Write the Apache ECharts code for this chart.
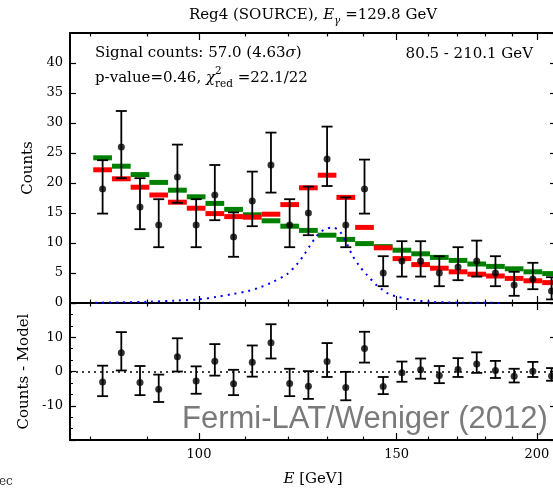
<!DOCTYPE html>
<html><head><meta charset="utf-8">
<script src="https://cdn.jsdelivr.net/npm/echarts@6/dist/echarts.min.js"></script>
<style>html,body{margin:0;padding:0;background:#fff;}#c{width:553px;height:488px;}</style>
</head><body><div id="c"></div>
<script>
// ---------------- data ----------------
const binEdges = [80.5, 83.65, 86.92, 90.32, 93.85, 97.53, 101.34, 105.31, 109.43, 113.71, 118.16, 122.78, 127.58, 132.57, 137.76, 143.15, 148.75, 154.57, 160.61, 166.90, 173.42, 180.21, 187.26, 194.58, 202.20, 210.1];
const binCenters = [82.06, 85.27, 88.60, 92.07, 95.67, 99.42, 103.30, 107.35, 111.55, 115.91, 120.44, 125.16, 130.05, 135.14, 140.43, 145.92, 151.63, 157.56, 163.72, 170.13, 176.78, 183.70, 190.89, 198.35, 206.11];
const counts = [19, 26, 16, 13, 21, 13, 18, 11, 17, 23, 13, 15, 24, 13, 19, 5, 7, 7, 5, 6, 7, 5, 3, 4, 2];
const errUp = [4.8, 6.0, 4.8, 4.3, 5.4, 4.3, 5.0, 4.1, 4.9, 5.4, 4.3, 4.4, 5.4, 4.6, 4.9, 2.8, 3.3, 3.3, 2.8, 3.3, 3.4, 2.8, 2.2, 2.7, 2.3];
const errDown = [4.1, 5.2, 3.7, 3.7, 4.3, 3.7, 4.2, 3.3, 4.2, 4.6, 3.7, 3.7, 4.5, 3.7, 4.1, 2.2, 2.6, 2.6, 2.2, 2.2, 2.6, 2.2, 1.8, 1.7, 1.4];
const modelTotal = [22.2, 20.7, 19.3, 18.0, 16.8, 15.8, 14.9, 14.4, 14.3, 14.8, 16.4, 19.2, 21.3, 17.6, 12.6, 9.2, 7.4, 6.4, 5.8, 5.2, 4.8, 4.5, 4.1, 3.7, 3.4];
const modelBkgOnly = [24.2, 22.8, 21.4, 20.1, 18.8, 17.7, 16.6, 15.6, 14.7, 13.7, 12.8, 12.1, 11.3, 10.6, 9.9, 9.4, 8.8, 8.2, 7.6, 7.1, 6.5, 6.1, 5.7, 5.2, 4.9];
const residuals = [-3.1, 5.5, -3.2, -5.2, 4.3, -2.8, 3.0, -3.6, 2.7, 8.4, -3.5, -4.3, 2.9, -4.7, 6.7, -4.4, -0.4, 0.5, -1.2, 0.6, 2.2, 0.3, -1.4, 0.1, -1.3];
const lineE = [80.8, 85.0, 89.9, 95.2, 100.0, 103.8, 107.2, 110.6, 113.3, 115.7, 119.8, 122.3, 123.8, 125.6, 126.9, 128.2, 130.0, 131.6, 133.5, 135.5, 137.1, 139.1, 141.1, 144.1, 145.8, 147.3, 150.1, 155.1, 160.6, 167.3, 178.0, 185.4];
const lineCounts = [0.05, 0.1, 0.2, 0.4, 0.6, 1.05, 1.5, 2.0, 2.6, 3.3, 4.8, 6.5, 7.8, 9.6, 10.8, 11.8, 12.4, 12.6, 11.9, 9.8, 7.8, 6.05, 4.7, 2.9, 2.2, 1.6, 1.05, 0.5, 0.2, 0.08, 0.03, 0.02];
const xMajorTicks = [100, 150, 200];
const xMinorTicks = [80, 90, 110, 120, 130, 140, 160, 170, 180, 190];
const xRangeE = [76.75, 208.0];

// ---------------- chart ----------------
const L = v => Math.log10(v);
const xMin = L(xRangeE[0]), xMax = L(xRangeE[1]);
const SERIF = 'DejaVu Serif';
const black = '#000';
const FS = 15;

function xAx(grid, pos, ticks, len, showLine, labels, extra) {
  return Object.assign({
    type: 'value', gridIndex: grid, position: pos, min: xMin, max: xMax,
    axisLine: {show: showLine, onZero: false, lineStyle: {color: black, width: 2}},
    axisTick: {show: true, inside: true, length: len, customValues: ticks.map(L), lineStyle: {color: black, width: 1.2}},
    axisLabel: labels ? {show: true, customValues: labels.map(L), formatter: v => String(Math.round(Math.pow(10, v))),
      color: black, fontFamily: SERIF, fontSize: 13, margin: 8} : {show: false},
    splitLine: {show: false}
  }, extra || {});
}
function yAx(grid, pos, min, max, interval, labels, minor, extra) {
  return Object.assign({
    type: 'value', gridIndex: grid, position: pos, min: min, max: max, interval: interval,
    axisLine: {show: true, onZero: false, lineStyle: {color: black, width: 2}},
    axisTick: {show: true, inside: true, length: 6, lineStyle: {color: black, width: 1.2}},
    minorTick: minor ? {show: true, splitNumber: 3, length: 3, lineStyle: {color: black, width: 1}} : {show: false},
    axisLabel: labels ? {show: true, showMaxLabel: false, showMinLabel: min < 0 ? false : true, color: black, fontFamily: SERIF, fontSize: 13, margin: 7} : {show: false},
    splitLine: {show: false}
  }, extra || {});
}

function barRender(color) {
  return function (params, api) {
    const a = api.coord([api.value(0), api.value(2)]);
    const b = api.coord([api.value(1), api.value(2)]);
    return {type: 'rect', shape: {x: a[0], y: a[1] - 2.5, width: b[0] - a[0], height: 5}, style: {fill: color}};
  };
}
function errRender(params, api) {
  const x = api.value(0), y = api.value(1), lo = api.value(2), hi = api.value(3);
  const t = api.coord([x, y + hi]), b = api.coord([x, y - lo]);
  const w = 5.5;
  const st = {stroke: black, lineWidth: 1.8, fill: null};
  return {type: 'group', children: [
    {type: 'line', shape: {x1: t[0], y1: t[1], x2: b[0], y2: b[1]}, style: st},
    {type: 'line', shape: {x1: t[0] - w, y1: t[1], x2: t[0] + w, y2: t[1]}, style: st},
    {type: 'line', shape: {x1: b[0] - w, y1: b[1], x2: b[0] + w, y2: b[1]}, style: st}
  ]};
}

const barData = arr => arr.map((v, i) => [L(binEdges[i]), L(binEdges[i + 1]), v]);
const errData = arr => arr.map((v, i) => [L(binCenters[i]), v, errDown[i], errUp[i]]);
const ptData = arr => arr.map((v, i) => [L(binCenters[i]), v]);

const richBase = {
  n: {fontFamily: SERIF, fontSize: FS, lineHeight: 24, verticalAlign: 'middle', color: black},
  i: {fontFamily: SERIF, fontSize: FS, fontStyle: 'italic', lineHeight: 24, verticalAlign: 'middle', color: black},
  sub: {fontFamily: SERIF, fontSize: 10.5, fontStyle: 'italic', lineHeight: 12, verticalAlign: 'bottom', color: black},
  subr: {fontFamily: SERIF, fontSize: 10.5, lineHeight: 12, verticalAlign: 'bottom', color: black},
  sup: {fontFamily: SERIF, fontSize: 10.5, lineHeight: 12, verticalAlign: 'top', color: black, width: 0.01}
};
const nameStyle = {fontFamily: SERIF, fontSize: FS, color: black};

const chart = echarts.init(document.getElementById('c'), null, {renderer: 'canvas'});
chart.setOption({
  animation: false,
  backgroundColor: '#fff',
  textStyle: {fontFamily: SERIF, color: black},
  grid: [
    {left: 70, top: 33, width: 486, height: 270, outerBoundsMode: 'none'},
    {left: 70, top: 303, width: 486, height: 137, outerBoundsMode: 'none'}
  ],
  xAxis: [
    xAx(0, 'bottom', xMajorTicks, 7, true, null),
    xAx(0, 'bottom', xMinorTicks, 3.5, false, null),
    xAx(0, 'top', xMajorTicks, 7, true, null),
    xAx(0, 'top', xMinorTicks, 3.5, false, null),
    xAx(1, 'bottom', xMajorTicks, 7, true, xMajorTicks, {
      name: '{i|E} [GeV]', nameLocation: 'middle', nameGap: 32,
      nameTextStyle: {fontFamily: SERIF, fontSize: FS, color: black,
        rich: {i: {fontFamily: SERIF, fontSize: FS, fontStyle: 'italic', color: black}}}
    }),
    xAx(1, 'bottom', xMinorTicks, 3.5, false, null),
    xAx(1, 'top', xMajorTicks, 7, true, null),
    xAx(1, 'top', xMinorTicks, 3.5, false, null)
  ],
  yAxis: [
    yAx(0, 'left', 0, 45, 5, true, false, {name: 'Counts', nameLocation: 'middle', nameGap: 28, nameTextStyle: nameStyle}),
    yAx(0, 'right', 0, 45, 5, false, false),
    yAx(1, 'left', -20, 20, 10, true, true, {name: 'Counts - Model', nameLocation: 'middle', nameGap: 33, nameTextStyle: nameStyle}),
    yAx(1, 'right', -20, 20, 10, false, true)
  ],
  series: [
    {type: 'custom', name: 'background only', xAxisIndex: 0, yAxisIndex: 0, renderItem: barRender('#008000'),
      encode: {x: [0, 1], y: 2}, data: barData(modelBkgOnly), z: 2, clip: true},
    {type: 'custom', name: 'background + line', xAxisIndex: 0, yAxisIndex: 0, renderItem: barRender('#ff0000'),
      encode: {x: [0, 1], y: 2}, data: barData(modelTotal), z: 3, clip: true},
    {type: 'line', name: 'line signal', xAxisIndex: 0, yAxisIndex: 0, data: lineE.map((e, i) => [L(e), lineCounts[i]]),
      showSymbol: false, smooth: 0.3, lineStyle: {color: '#0000ff', width: 2, type: [2, 5]}, z: 4},
    {type: 'custom', name: 'count errors', xAxisIndex: 0, yAxisIndex: 0, renderItem: errRender,
      encode: {x: 0, y: 1}, data: errData(counts), z: 5, clip: true},
    {type: 'scatter', name: 'counts', xAxisIndex: 0, yAxisIndex: 0, data: ptData(counts), symbolSize: 7,
      itemStyle: {color: black}, z: 6},
    {type: 'custom', name: 'residual errors', xAxisIndex: 4, yAxisIndex: 2, renderItem: errRender,
      encode: {x: 0, y: 1}, data: errData(residuals), z: 5, clip: true},
    {type: 'scatter', name: 'residuals', xAxisIndex: 4, yAxisIndex: 2, data: ptData(residuals), symbolSize: 7,
      itemStyle: {color: black}, z: 6,
      markLine: {silent: true, symbol: 'none', label: {show: false}, lineStyle: {color: black, width: 1.5, type: [2, 4]},
        data: [{yAxis: 0}]}}
  ],
  graphic: [
    {type: 'text', x: 313, y: 15, z: 10, style: {text: '{n|Reg4 (SOURCE), }{i|E}{sub|γ}{n| =129.8 GeV}', rich: richBase, align: 'center', verticalAlign: 'middle'}},
    {type: 'text', x: 95, y: 53, z: 10, style: {text: '{n|Signal counts: 57.0 (4.63}{i|σ}{n|)}', rich: richBase, align: 'left', verticalAlign: 'middle'}},
    {type: 'text', x: 95, y: 78, z: 10, style: {text: '{n|p-value=0.46, }{i|χ}{sup|2}{subr|red}{n| =22.1/22}', rich: richBase, align: 'left', verticalAlign: 'middle'}},
    {type: 'text', x: 533, y: 54, z: 10, style: {text: '80.5 - 210.1 GeV', fontFamily: SERIF, fontSize: FS, fill: black, align: 'right', verticalAlign: 'middle'}},
    {type: 'text', x: 182, y: 419, z: 20, style: {text: 'Fermi-LAT/Weniger (2012)', fontFamily: 'Liberation Sans', fontSize: 31, fill: '#7a7a7a', align: 'left', verticalAlign: 'middle'}},
    {type: 'text', x: -1, y: 482, z: 20, style: {text: 'ec', fontFamily: SERIF, fontSize: 12, fill: '#333', align: 'left', verticalAlign: 'middle'}}
  ]
});
</script></body></html>
